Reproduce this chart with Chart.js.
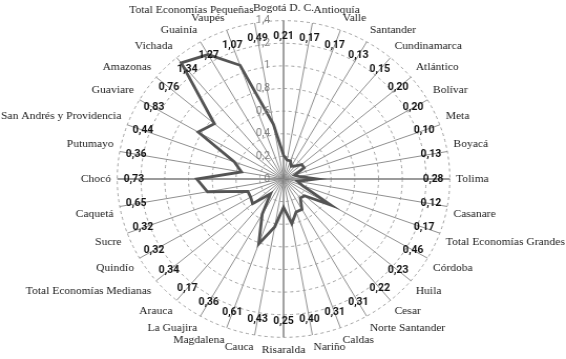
<!DOCTYPE html>
<html><head><meta charset="utf-8">
<script src="https://cdn.jsdelivr.net/npm/chart.js@4"></script>
<style>
html,body{margin:0;padding:0;background:#fff;overflow:hidden}
#c{display:block;width:566px;height:359px}
</style>
</head><body>
<canvas id="c" width="539" height="359" style="width:566px;height:359px"></canvas>
<script>
const categories = [
  "Bogotá D. C.","Antioquía","Valle","Santander","Cundinamarca","Atlántico","Bolívar","Meta","Boyacá","Tolima",
  "Casanare","Total Economías Grandes","Córdoba","Huila","Cesar","Norte Santander","Caldas","Nariño","Risaralda",
  "Cauca","Magdalena","La Guajira","Arauca","Total Economías Medianas","Quindío","Sucre","Caquetá","Chocó",
  "Putumayo","San Andrés y Providencia","Guaviare","Amazonas","Vichada","Guainía","Vaupés","Total Economías Pequeñas"
];
const values = [
  0.21,0.17,0.17,0.13,0.15,0.20,0.20,0.10,0.13,0.28,
  0.12,0.17,0.46,0.23,0.22,0.31,0.31,0.40,0.25,
  0.43,0.61,0.36,0.17,0.34,0.32,0.32,0.65,0.73,
  0.36,0.44,0.83,0.76,1.34,1.27,1.07,0.49
];
const tickValues = [0,0.2,0.4,0.6,0.8,1,1.2,1.4];
const tickLabels = ["0","0,2","0,4","0,6","0,8","1","1,2","1,4"];

const fmt = v => v.toFixed(2).replace('.', ',');

const overlay = {
  id: 'overlay',
  afterDatasetsDraw(chart) {
    const s = chart.scales.r;
    const ctx = chart.ctx;
    ctx.save();
    ctx.font = 'bold 10px Roboto';
    ctx.fillStyle = '#111';
    ctx.textAlign = 'center';
    ctx.textBaseline = 'middle';
    const d = s.getDistanceFromCenterForValue(1.26);
    values.forEach((v, i) => {
      const p = s.getPointPosition(i, d);
      ctx.fillText(fmt(v), p.x, p.y);
    });
    ctx.font = '10px Roboto';
    ctx.fillStyle = '#7d7d7d';
    ctx.textAlign = 'right';
    tickValues.forEach((t, i) => {
      const y = s.yCenter - s.getDistanceFromCenterForValue(t);
      ctx.fillText(tickLabels[i], s.xCenter - 13, y);
    });
    ctx.restore();
  }
};

new Chart(document.getElementById('c'), {
  type: 'radar',
  data: {
    labels: categories,
    datasets: [{
      data: values,
      borderColor: '#545454',
      borderWidth: 2.8,
      fill: false,
      pointRadius: 0,
      pointHoverRadius: 0,
      tension: 0
    }]
  },
  options: {
    responsive: false,
    animation: false,
    devicePixelRatio: 1,
    layout: { padding: 0 },
    plugins: { legend: { display: false }, tooltip: { enabled: false } },
    scales: {
      r: {
        min: 0,
        max: 1.4,
        ticks: { stepSize: 0.2, display: false },
        grid: { circular: true, color: '#a0a0a0', lineWidth: 1 },
        border: { dash: [3, 3] },
        angleLines: {
          color: (c) => (c.index % 9 === 0 ? '#7a7a7a' : '#8f8f8f'),
          lineWidth: (c) => (c.index % 9 === 0 ? 1.4 : 1)
        },
        pointLabels: {
          font: { family: 'Liberation Serif', size: 11 },
          color: '#222',
          padding: 6
        }
      }
    }
  },
  plugins: [overlay]
});
</script>
</body></html>
